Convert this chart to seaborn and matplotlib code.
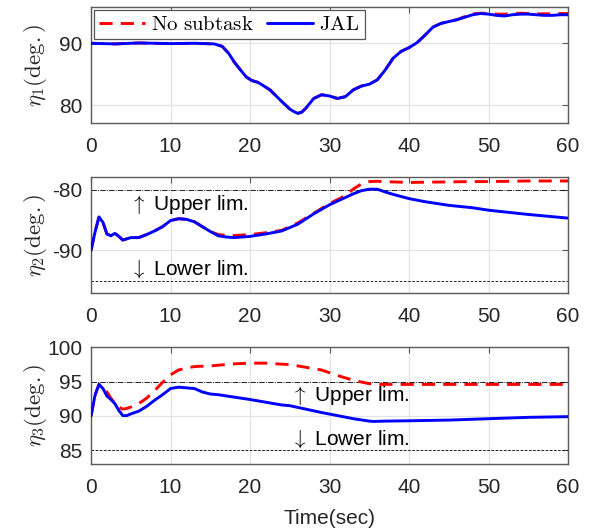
import numpy as np
import pandas as pd
import matplotlib
matplotlib.use("Agg")
import matplotlib.pyplot as plt
import seaborn as sns

# ---- data ----
t1 = [0, 3, 6, 10, 13, 15.5, 16.5, 17.3, 18, 18.8, 19.5, 20.2, 21, 22.5, 24, 25, 25.5, 26, 26.5, 27, 28, 29, 30, 31, 32, 33,
      34, 35, 36, 37, 38, 39, 40, 41, 42, 43, 44, 45, 46, 47, 48, 49, 50, 51, 52, 53, 54, 55, 56, 57, 58, 59, 60]
eta1_jal = [90, 89.9, 90.05, 89.95, 90, 89.9, 89.5, 88.4, 87.0, 85.7, 84.6, 84.0, 83.7, 82.5, 80.6, 79.4, 79.0, 78.7, 78.9,
            79.5, 81.1, 81.7, 81.5, 81.1, 81.4, 82.5, 83.1, 83.4, 84.1, 85.7, 87.6, 88.7, 89.3, 90.1, 91.3, 92.6, 93.2,
            93.5, 93.8, 94.2, 94.6, 94.8, 94.7, 94.5, 94.4, 94.6, 94.7, 94.7, 94.6, 94.5, 94.5, 94.6, 94.6]
eta1_nos = [90, 89.9, 90.05, 89.95, 90, 89.9, 89.5, 88.4, 87.0, 85.7, 84.6, 84.0, 83.7, 82.5, 80.6, 79.4, 79.0, 78.7, 78.9,
            79.5, 81.1, 81.7, 81.5, 81.1, 81.4, 82.5, 83.1, 83.4, 84.1, 85.7, 87.6, 88.7, 89.3, 90.1, 91.3, 92.6, 93.2,
            93.5, 93.8, 94.3, 94.75, 94.85, 94.8, 94.7, 94.7, 94.8, 94.85, 94.8, 94.75, 94.75, 94.75, 94.8, 94.8]

t2 = [0, 0.5, 1, 1.5, 2, 2.5, 3, 3.5, 4, 4.5, 5, 6, 7, 8, 9, 10, 11, 12, 13, 14, 15, 16, 17, 18, 20, 22, 24, 26, 28,
      30, 32, 33, 34, 35, 36, 37, 38, 40, 42, 45, 48, 50, 55, 60]
eta2_jal = [-90, -87, -84.5, -85.4, -87.3, -87.6, -87.2, -87.7, -88.3, -88.1, -87.9, -87.9, -87.4, -86.8, -86.1, -85.1,
            -84.8, -84.9, -85.3, -86.1, -86.9, -87.6, -87.8, -87.9, -87.7, -87.3, -86.8, -85.7, -84.0, -82.5, -81.3,
            -80.7, -80.2, -79.95, -79.95, -80.4, -80.8, -81.5, -82.0, -82.6, -83.0, -83.4, -84.1, -84.7]
eta2_nos = [-90, -87, -84.5, -85.4, -87.3, -87.6, -87.2, -87.7, -88.3, -88.1, -87.9, -87.9, -87.4, -86.8, -86.1, -85.1,
            -84.8, -84.9, -85.3, -86.1, -86.9, -87.4, -87.55, -87.55, -87.4, -87.1, -86.7, -85.5, -83.9, -82.3, -81.0,
            -79.9, -79.1, -78.7, -78.65, -78.7, -78.75, -78.85, -78.8, -78.75, -78.7, -78.7, -78.6, -78.6]

t3 = [0, 0.5, 1, 1.5, 2, 2.5, 3, 3.5, 4, 4.5, 5, 6, 7, 8, 9, 10, 11, 12, 13, 14, 15, 16, 18, 20, 22, 24, 25, 27, 29,
      31, 33, 35, 35.5, 37, 40, 45, 50, 55, 60]
eta3_jal = [90, 93, 94.6, 94, 92.9, 92.4, 91.8, 90.8, 90.05, 90.05, 90.3, 90.7, 91.4, 92.3, 93.1, 94.0, 94.2, 94.1, 94.0,
            93.5, 93.2, 93.1, 92.75, 92.4, 92.0, 91.6, 91.5, 91.0, 90.5, 90.05, 89.6, 89.25, 89.2, 89.25, 89.3, 89.4,
            89.6, 89.8, 89.9]
eta3_nos = [90, 93, 94.6, 94.2, 93.5, 92.6, 91.8, 91.3, 91.0, 91.1, 91.3, 91.8, 92.6, 93.7, 94.9, 96.0, 96.7, 97.0, 97.2,
            97.25, 97.3, 97.4, 97.6, 97.7, 97.7, 97.55, 97.5, 97.1, 96.7, 95.9, 95.2, 94.7, 94.6, 94.6, 94.6, 94.6,
            94.6, 94.6, 94.6]

upper2, lower2 = -80, -95
upper3, lower3 = 95, 85
xticks = [0, 10, 20, 30, 40, 50, 60]

# ---- style ----
sns.set_style("white")
plt.rcParams['font.family'] = ['Liberation Sans', 'DejaVu Sans']
plt.rcParams['mathtext.fontset'] = 'cm'
plt.rcParams['axes.unicode_minus'] = False
TXT = '#262626'
SP = '#5a5a5a'

fig = plt.figure(figsize=(5.93, 5.31), dpi=100)
ax1 = fig.add_axes([0.1535, 0.7678, 0.8045, 0.2196])
ax2 = fig.add_axes([0.1535, 0.4476, 0.8045, 0.2196])
ax3 = fig.add_axes([0.1535, 0.1262, 0.8045, 0.2209])

series = [
    (ax1, t1, eta1_nos, eta1_jal),
    (ax2, t2, eta2_nos, eta2_jal),
    (ax3, t3, eta3_nos, eta3_jal),
]
for ax, t, nos, jal in series:
    df = pd.DataFrame({'t': t, 'nos': nos, 'jal': jal})
    sns.lineplot(data=df, x='t', y='nos', ax=ax, color='#ff0000', lw=2.1,
                 dashes=False, label='No subtask', zorder=3)
    ax.lines[-1].set_dashes([4.5, 2.8])
    sns.lineplot(data=df, x='t', y='jal', ax=ax, color='#0000ff', lw=2.1,
                 label='JAL', zorder=4)

# limit lines
for ax, up, lo in [(ax2, upper2, lower2), (ax3, upper3, lower3)]:
    ax.axhline(up, color='black', lw=0.6, ls='-.', zorder=2)
    ax.axhline(lo, color='black', lw=0.6, ls=(0, (3, 2)), zorder=2)

ax1.set_ylim(77.1, 95.9)
ax1.set_yticks([80, 90])
ax2.set_ylim(-97.05, -77.9)
ax2.set_yticks([-90, -80])
ax3.set_ylim(83, 100.1)
ax3.set_yticks([85, 90, 95, 100])

ylabels = [r'$\eta_1(\mathrm{deg.})$', r'$\eta_2(\mathrm{deg.})$', r'$\eta_3(\mathrm{deg.})$']
for ax, yl in zip([ax1, ax2, ax3], ylabels):
    ax.set_xlim(0, 60)
    ax.set_xticks(xticks)
    ax.grid(True, color='#e3e3e3', lw=0.9)
    ax.set_axisbelow(True)
    ax.tick_params(direction='in', length=4, width=0.8, color=SP, top=True, right=True,
                   labelsize=15, labelcolor=TXT, pad=6)
    ax.tick_params(axis='x', pad=10)
    for s in ax.spines.values():
        s.set_visible(True)
        s.set_color(SP)
        s.set_linewidth(1.0)
    ax.set_ylabel(yl, fontsize=16.5, color=TXT)
    ax.yaxis.set_label_coords(-0.088, 0.5)
    ax.set_xlabel('')
    if ax is not ax1:
        ax.get_legend().remove()

ax3.set_xlabel('Time(sec)', fontsize=15, color=TXT, labelpad=9)

leg = ax1.legend(loc='upper left', ncol=2, frameon=True, fancybox=False,
                 bbox_to_anchor=(0.0, 1.0), borderaxespad=0.15, handlelength=2.2,
                 columnspacing=0.6, handletextpad=0.3, borderpad=0.25,
                 prop={'family': 'DejaVu Serif', 'size': 15})
leg.get_frame().set_edgecolor('#555555')
leg.get_frame().set_linewidth(0.9)
leg.get_frame().set_alpha(1)
leg.get_lines()[0].set_dashes([4.5, 2.8])
for txt in leg.get_texts():
    txt.set_text(r'$\mathrm{' + txt.get_text().replace(' ', r'\ ') + '}$')
    txt.set_color('black')

afont = dict(fontsize=15, color='black', va='center', ha='left')
ax2.text(4.9, -82.4, r'$\uparrow$ Upper lim.', **afont)
ax2.text(4.9, -93.0, r'$\downarrow$ Lower lim.', **afont)
ax3.text(25.2, 93.0, r'$\uparrow$ Upper lim.', **afont)
ax3.text(25.2, 86.7, r'$\downarrow$ Lower lim.', **afont)

fig.savefig('out.png', dpi=100)
